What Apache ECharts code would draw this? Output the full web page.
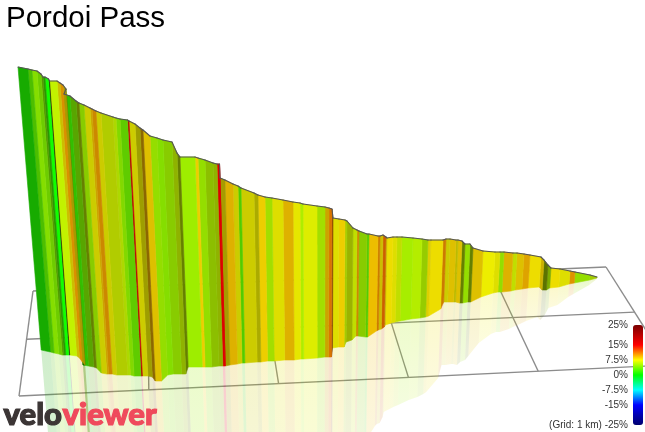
<!DOCTYPE html>
<html><head><meta charset="utf-8">
<style>html,body{margin:0;padding:0;background:#fff}#c{width:645px;height:432px}</style>
<script src="https://cdn.jsdelivr.net/npm/echarts@6/dist/echarts.min.js"></script>
</head><body><div id="c"></div>
<script>
const chartTitle = 'Pordoi Pass';
const distance = [18,28,32,37,41,43,45,48.5,49.5,57, 60,63,66,64,70,76,79,84,90,92, 96,101,113,116,120,127.5,129,135,140,143,
 150,157,163,172,177,180,195,198,205,213, 217,219.5,220,225,233,238,241,254,258,265, 272,283,293,300,303,317,325,329,332,333,
 339,345,347,353,357,359,367,369,378,380, 383,386,387,393,397,402,413,422,428,431, 443,446,450,456,458,462,465,470,473,483,
 495,500,504,513,517,524,530,541,544,548, 551,560,570,575,590,597];
const elevation = [67,69,70,71,74,77,77,79,81,81, 83,85,89,94,96,101,103,105,108,109, 111,113,117,118,119,120,121,124,128,130,
 136,138,140,142,153,157,157,158,160,163, 164,164,178,180,184,186,188,193,195,197, 198,200,202,203,204,206,207,208,209,218,
 219,220,221,228,230,231,234,234,236,236, 235,237,238,237,237,237,238,239,240,240, 240,239,239,240,240,241,244,244,248,251,
 252,252,252,253,253,254,255,257,260,265, 268,269,271,272,275,277];
const ground = [350,352,353,354,355,355,355,355,355,356, 358,362,365,365,366,367,368,373,374,374, 374,375,375,375,376,376,376,376,377,381,
 381,375,374,374,374,367,367,367,367,366, 366,366,366,365,364,363,363,362,362,361, 361,360,360,359,359,358,357,357,357,348,
 347,347,342,340,336,336,337,337,331,330, 329,327,325,323,322,321,319,318,317,316, 309,302,302,302,302,303,303,302,302,297,
 293,292,292,291,290,289,288,287,290,290, 288,287,284,283,280,278];
const gradient = [1,3,4.5,4,4,2,0.5,10,6,8, 10,8,2,2,4,6,5,7.5,9,10, 7.5,6.5,6,4.5,3.5,15,7.5,7.5,9.5,8.5,
 5,4.5,5,6,6,5,8.5,5,5.5,6, 15,15,8,9,7.5,3,7.5,7.5,8.5,5.5, 7.5,9,7.5,5.5,7,5.5,9,11,11,7.5,
 8.5,6,6.5,6.5,10,5,3,9,10.5,8, 11.5,8,8,7.5,6.5,5.3,5.7,5.5,8,8, 10.5,7.5,8.5,7.5,8.5,6,5,6,8.5,7.5,
 7.5,5,9,6.5,8.5,9.5,8,8.5,6,5.5, 8,7.5,10,5,6,6];
const lighting = [.67,.75,.87,.8,.6,.6,1,.15,.95,.8, .85,.65,.4,.75,.65,.5,.8,.8,.8,.8, .8,.8,.85,.85,.8,.75,.8,.62,.55,.87,
 .87,.87,.8,.7,.5,.93,.93,.87,.75,.7, .87,.87,.65,.87,.8,.8,.8,.67,.93,.87, .87,.87,.9,.93,.93,.87,.8,.85,.5,.87,
 .93,.8,.7,.87,.8,.8,.8,.93,.8,.8, .8,.8,.93,.87,.87,.93,.93,.8,.87,.93, .8,.8,.87,.73,.87,.5,.87,.5,.87,.93,
 .87,.87,.87,.87,.87,.87,.93,.8,.45,.67, .93,.87,.87,.87,.8,.8];
const gridColumnsKm = [0,1,2,3,4,5];
const gridRowsKm = [0,1,2];
const legendTicks = [25,15,7.5,0,-7.5,-15,-25];
const legendMin = -25, legendMax = 25;
// one stop every 2.5% from -25 to 25
const paletteStops = ['#000070','#000090','#0000b0','#0000d8','#0000ff','#0055ff','#00aaff','#00ffff','#00ffaa','#00ff55',
 '#00ff00','#55ff00','#aaff00','#ffff00','#ffaa00','#ff5500','#ff0000','#dd0000','#bb0000','#990000','#7a0000'];

const vanish = [320, 3750];
const towardV = (x, y, yTarget) => x + (vanish[0] - x) * (yTarget - y) / (vanish[1] - y);
const floorBL = [33,291], floorBR = [606,267], floorFL = [19,396], floorFR = [668,365];
const rowFrac = [0, .46, 1];
function floorPt(col, row) {
  const u = col / 5, v = rowFrac[row];
  const mix = (a,b,t) => [a[0]+(b[0]-a[0])*t, a[1]+(b[1]-a[1])*t];
  return mix(mix(floorBL, floorBR, u), mix(floorFL, floorFR, u), v);
}
const n = distance.length;
const rows = distance.map((d,i)=>[d, elevation[i], ground[i], gradient[i], lighting[i], i]).slice(0,n-1).reverse();
function shadeColor(c, s) {
  const p = echarts.color.parse(c);
  return `rgb(${Math.round(p[0]*s)},${Math.round(p[1]*s)},${Math.round(p[2]*s)})`;
}
function wall(params, api) {
  const i = api.value(5), j = i + 1;
  const t0 = [distance[i], elevation[i]], t1 = [distance[j], elevation[j]];
  const b0 = [towardV(t0[0], t0[1], ground[i]), ground[i]];
  const b1 = [towardV(t1[0], t1[1], ground[j]), ground[j]];
  const col = shadeColor(api.visual('color'), api.value(4));
  const P = p => api.coord(p);
  return {type:'group', children:[
    {type:'polygon', shape:{points:[P(t0),P(t1),P(b1),P(b0)]}, style:{fill:col, stroke:col, lineWidth:.6}},
    {type:'line', shape:{x1:P(t0)[0],y1:P(t0)[1],x2:P(t1)[0],y2:P(t1)[1]}, style:{stroke:'#555', lineWidth:1.1, lineCap:'round'}, z2:5}
  ]};
}
function reflect(params, api) {
  const i = api.value(5), j = i + 1;
  const m0 = 2*ground[i]-elevation[i], m1 = 2*ground[j]-elevation[j];
  const a0 = [towardV(distance[i],elevation[i],ground[i]), ground[i]];
  const a1 = [towardV(distance[j],elevation[j],ground[j]), ground[j]];
  const c0 = [towardV(distance[i],elevation[i],m0), m0];
  const c1 = [towardV(distance[j],elevation[j],m1), m1];
  const p = echarts.color.parse(api.visual('color'));
  const s = api.value(4);
  const rgb = `${Math.round(p[0]*s)},${Math.round(p[1]*s)},${Math.round(p[2]*s)}`;
  const P = q => api.coord(q);
  return {type:'polygon', shape:{points:[P(a0),P(a1),P(c1),P(c0)]},
    style:{fill:{type:'linear',x:0,y:0,x2:0,y2:1,colorStops:[{offset:0,color:`rgba(${rgb},.2)`},{offset:1,color:`rgba(${rgb},.13)`}]}}};
}
function floorGrid(params, api) {
  const kind = api.value(0), k = api.value(1);
  const a = kind === 0 ? floorPt(k,0) : floorPt(0,k);
  const b = kind === 0 ? floorPt(k,2) : floorPt(5,k);
  const pa = api.coord(a), pb = api.coord(b);
  return {type:'line', shape:{x1:pa[0],y1:pa[1],x2:pb[0],y2:pb[1]}, style:{stroke:'#8c8c8c', lineWidth:1.4}};
}
const floorData = gridColumnsKm.map(k=>[0,k]).concat(gridRowsKm.map(k=>[1,k]));

const chart = echarts.init(document.getElementById('c'), null, {renderer:'canvas'});
chart.setOption({
  animation:false,
  backgroundColor:'#fff',
  title:{text:chartTitle,left:6,top:4,padding:0,textStyle:{fontFamily:'Liberation Sans',fontWeight:'normal',fontSize:29.5,color:'#000'}},
  grid:[{left:0,top:0,width:645,height:432},{left:633,top:325,width:10,height:100}],
  xAxis:[{type:'value',min:0,max:645,show:false},{type:'value',gridIndex:1,min:0,max:1,show:false}],
  yAxis:[{type:'value',min:0,max:432,inverse:true,show:false},
    {type:'value',gridIndex:1,min:legendMin,max:legendMax,position:'left',splitLine:{show:false},axisLine:{show:false},axisTick:{show:false},
     axisLabel:{customValues:legendTicks,margin:5,fontFamily:'Liberation Sans',fontSize:10,color:'#333',
       formatter:v=>v===-25?'(Grid: 1 km) -25%':v+'%'}}],
  visualMap:{type:'continuous',seriesIndex:[1,2],dimension:3,min:legendMin,max:legendMax,left:633,top:325,itemWidth:10,itemHeight:100,padding:0,
    calculable:false,text:null,hoverLink:false,inRange:{color:paletteStops}},
  series:[
    {type:'custom',coordinateSystem:'cartesian2d',silent:true,z:1,data:floorData,renderItem:floorGrid,encode:{x:0,y:1}},
    {type:'custom',coordinateSystem:'cartesian2d',silent:true,z:2,data:rows,renderItem:reflect,encode:{x:0,y:1}},
    {type:'custom',coordinateSystem:'cartesian2d',silent:true,z:3,data:rows,renderItem:wall,encode:{x:0,y:1}}
  ],
  graphic:[
    {type:'text',left:3,top:399,z:10,style:{text:'velo',font:'900 31px Lato',fill:'#3b3535',stroke:'#3b3535',lineWidth:1.2}},
    {type:'text',left:62,top:399,z:10,style:{text:'viewer',font:'900 31px Lato',fill:'#ef4a5c',stroke:'#ef4a5c',lineWidth:1.2}}
  ]
});
</script></body></html>
